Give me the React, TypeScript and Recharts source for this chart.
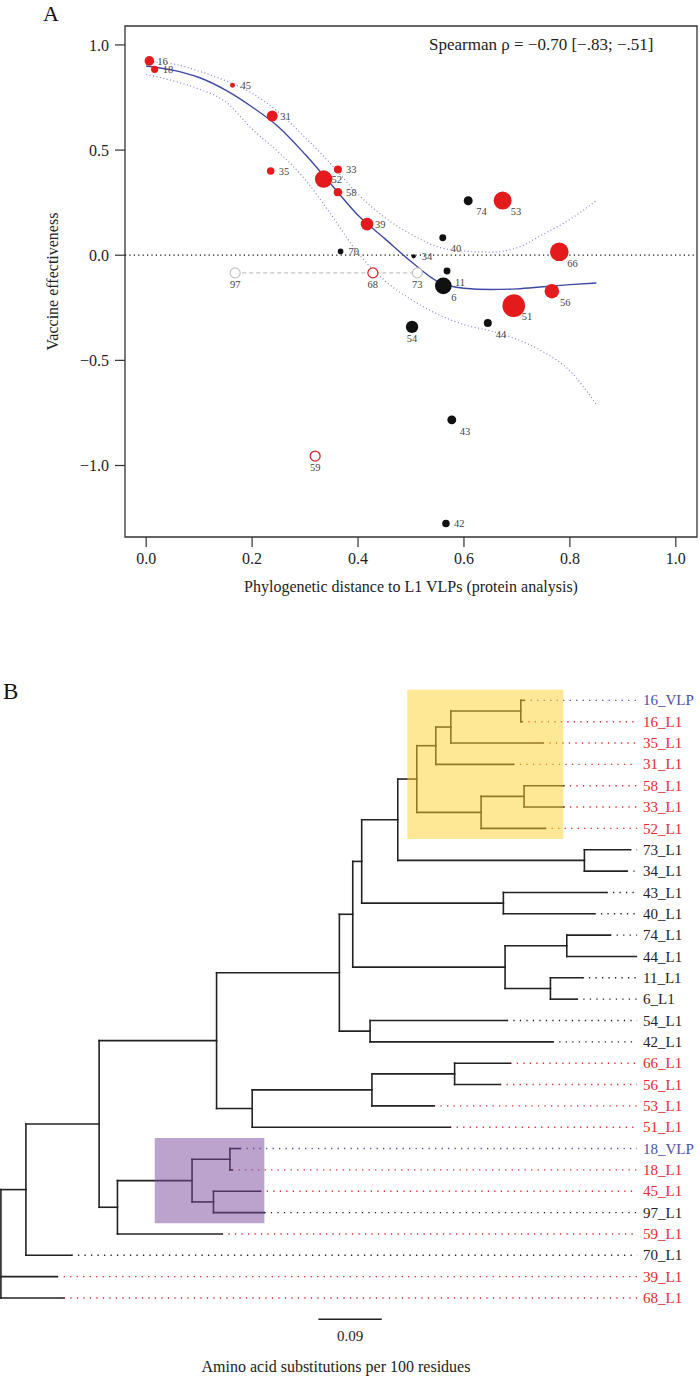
import React from 'react';
import {
  ComposedChart,
  Scatter,
  Line,
  XAxis,
  YAxis,
  ZAxis,
  ReferenceLine,
  ReferenceArea,
} from 'recharts';

const FONT = '"Liberation Serif", "Times New Roman", serif';
const RED = '#e41a1c';
const BLACK = '#111111';
const GREY = '#c4c4c4';
const VLP_BLUE = '#4f4fa3';

// ---------- panel A: vaccine effectiveness vs distance ----------
const hpvTypes = ['16', '18', '45', '31', '35', '52', '33', '58', '39', '70', '34', '40', '74', '11', '6', '53', '66', '56', '51', '54', '44', '43', '42', '97', '68', '73', '59'];
const distance = [0.006, 0.016, 0.163, 0.238, 0.235, 0.335, 0.362, 0.362, 0.417, 0.367, 0.505, 0.56, 0.608, 0.568, 0.561, 0.673, 0.78, 0.766, 0.694, 0.502, 0.645, 0.577, 0.566, 0.168, 0.428, 0.512, 0.319];
const effectiveness = [0.924, 0.884, 0.808, 0.662, 0.4, 0.362, 0.408, 0.3, 0.148, 0.018, -0.005, 0.083, 0.259, -0.075, -0.146, 0.26, 0.016, -0.171, -0.24, -0.341, -0.322, -0.783, -1.276, -0.084, -0.084, -0.084, -0.955];
const weight = [23, 13, 6, 30, 14, 76, 16, 18, 40, 8, 4.5, 12, 20, 12, 69, 81, 86, 53, 128, 38, 16, 20, 14, 25, 25, 25, 25];
const pointGroup = ['red', 'red', 'red', 'red', 'red', 'red', 'red', 'red', 'red', 'black', 'black', 'black', 'black', 'black', 'black', 'red', 'red', 'red', 'red', 'black', 'black', 'black', 'black', 'greyOpen', 'redOpen', 'greyOpen', 'redOpen'];

const labelSide: Record<string, 'r' | 'br' | 'b'> = {
  '40': 'br', '74': 'br', '11': 'br', '6': 'br', '53': 'br', '66': 'br', '56': 'br', '51': 'br', '44': 'br', '43': 'br',
  '54': 'b', '97': 'b', '68': 'b', '73': 'b', '59': 'b',
};

// loess fit and its confidence band
const fitX = [0, 0.05, 0.1, 0.15, 0.2, 0.25, 0.3, 0.35, 0.4, 0.45, 0.5, 0.55, 0.6, 0.65, 0.7, 0.75, 0.8, 0.85];
const fitY = [0.9, 0.88, 0.845, 0.785, 0.705, 0.61, 0.48, 0.335, 0.19, 0.08, -0.03, -0.125, -0.157, -0.163, -0.16, -0.15, -0.14, -0.132];
const ciHigh = [0.92, 0.91, 0.875, 0.83, 0.77, 0.68, 0.56, 0.43, 0.29, 0.18, 0.1, 0.04, 0.02, 0.015, 0.035, 0.1, 0.17, 0.26];
const ciLow = [0.86, 0.83, 0.79, 0.73, 0.6, 0.49, 0.36, 0.19, 0.01, -0.12, -0.21, -0.28, -0.33, -0.36, -0.4, -0.46, -0.55, -0.71];

const xTicks = [0, 0.2, 0.4, 0.6, 0.8, 1];
const yTicks = [-1, -0.5, 0, 0.5, 1];

const points = hpvTypes.map((t, i) => ({ type: t, x: distance[i], y: effectiveness[i], w: weight[i], group: pointGroup[i] }));
const blackPts = points.filter((p) => p.group === 'black');
const redPts = points.filter((p) => p.group === 'red');
const openPts = points.filter((p) => p.group === 'redOpen' || p.group === 'greyOpen');
const greyPts = points.filter((p) => p.group === 'greyOpen');
const linkLine = [greyPts[0], greyPts[greyPts.length - 1]].map((p) => ({ x: p.x, y: p.y }));

const fitLine = fitX.map((x, i) => ({ x, y: fitY[i] }));
const upperLine = fitX.map((x, i) => ({ x, y: ciHigh[i] }));
const lowerLine = fitX.map((x, i) => ({ x, y: ciLow[i] }));

const groupColor: Record<string, string> = { red: RED, black: BLACK, redOpen: RED, greyOpen: GREY };

const fmtY = (v: number) => (v < 0 ? '\u2212' : '') + Math.abs(v).toFixed(1);

const PointMark = (props: any) => {
  const { cx, cy, size, payload } = props;
  if (cx == null || cy == null) return <g />;
  const open = payload.group === 'redOpen' || payload.group === 'greyOpen';
  const r = open ? 5 : Math.sqrt((size || 0) / Math.PI);
  const color = groupColor[payload.group];
  const side = labelSide[payload.type] || 'r';
  const tx = side === 'b' ? cx : cx + 8;
  const ty = side === 'r' ? cy : cy + 11;
  return (
    <g>
      <circle cx={cx} cy={cy} r={r} fill={open ? '#fff' : color} stroke={open ? color : 'none'} strokeWidth={1.2} />
      <text x={tx} y={ty} dy="0.35em" textAnchor={side === 'b' ? 'middle' : 'start'} fontSize={10.5} fill="#444">
        {payload.type}
      </text>
    </g>
  );
};

// ---------- panel B: phylogenetic tree ----------
const tipLabels = ['16_VLP', '16_L1', '35_L1', '31_L1', '58_L1', '33_L1', '52_L1', '73_L1', '34_L1', '43_L1', '40_L1', '74_L1', '44_L1', '11_L1', '6_L1', '54_L1', '42_L1', '66_L1', '56_L1', '53_L1', '51_L1', '18_VLP', '18_L1', '45_L1', '97_L1', '59_L1', '70_L1', '39_L1', '68_L1'];
const tipGroup = ['vlp', 'red', 'red', 'red', 'red', 'red', 'red', 'black', 'black', 'black', 'black', 'black', 'black', 'black', 'black', 'black', 'black', 'red', 'red', 'red', 'red', 'vlp', 'red', 'red', 'black', 'red', 'black', 'red', 'red'];
const tipParent = ['N', 'N', 'M', 'K', 'O', 'O', 'L', 'J', 'J', 'Q', 'Q', 'Y', 'Y', 'Z', 'Z', 'U', 'U', 'X', 'X', 'W', 'V', 'F', 'F', 'G', 'G', 'D', 'A', 'root', 'root'];
const tipDepth = [0.7426, 0.7393, 0.7692, 0.7274, 0.7984, 0.7984, 0.7724, 0.8931, 0.8884, 0.8595, 0.8424, 0.8647, 0.902, 0.8254, 0.8174, 0.7181, 0.7833, 0.723, 0.7085, 0.6147, 0.6376, 0.3394, 0.3281, 0.3681, 0.3739, 0.3137, 0.1001, 0.0798, 0.0893];

const nodeIds = ['root', 'A', 'B', 'C', 'D', 'E', 'F', 'G', 'T', 'S', 'P', 'H', 'I', 'K', 'M', 'N', 'L', 'O', 'J', 'Q', 'R', 'Y', 'Z', 'U', 'V', 'W', 'X'];
const nodeParent = ['', 'root', 'A', 'B', 'B', 'D', 'E', 'E', 'C', 'T', 'S', 'P', 'H', 'I', 'K', 'M', 'I', 'L', 'H', 'P', 'S', 'R', 'R', 'T', 'C', 'V', 'W'];
const nodeDepth = [0, 0.0355, 0.1394, 0.3061, 0.1654, 0.2713, 0.3251, 0.3017, 0.4804, 0.4994, 0.5121, 0.5633, 0.5903, 0.6173, 0.6386, 0.7379, 0.6816, 0.7426, 0.8282, 0.7132, 0.7156, 0.8032, 0.78, 0.524, 0.3567, 0.5266, 0.644];

const highlights = [
  { node: 'I', fill: '#fdd12d' },
  { node: 'E', fill: '#77479b' },
];

const LEADER_END = 0.903;
const scaleBar = { from: 0.4506, length: 0.09, row: 29 };

const tipColor: Record<string, string> = { vlp: VLP_BLUE, red: '#e62a2a', black: '#222' };

const depthOf: Record<string, number> = {};
nodeIds.forEach((id, i) => (depthOf[id] = nodeDepth[i]));
const parentOf: Record<string, string> = {};
nodeIds.forEach((id, i) => (parentOf[id] = nodeParent[i]));

const childYs = (id: string): number[] => {
  const ys: number[] = [];
  tipParent.forEach((p, i) => { if (p === id) ys.push(i); });
  nodeIds.forEach((n, i) => { if (nodeParent[i] === id) ys.push(nodeY(n)); });
  return ys;
};
const yCache: Record<string, number> = {};
function nodeY(id: string): number {
  if (yCache[id] !== undefined) return yCache[id];
  const ys = childYs(id);
  yCache[id] = (Math.min(...ys) + Math.max(...ys)) / 2;
  return yCache[id];
}
const tipsUnder = (id: string): number[] => {
  const out: number[] = [];
  tipParent.forEach((p, i) => { if (p === id) out.push(i); });
  nodeIds.forEach((n, i) => { if (nodeParent[i] === id) out.push(...tipsUnder(n)); });
  return out;
};

type Seg = { x1: number; y1: number; x2: number; y2: number };
const branches: Seg[] = [];
tipLabels.forEach((_, i) => branches.push({ x1: depthOf[tipParent[i]], y1: i, x2: tipDepth[i], y2: i }));
nodeIds.forEach((id) => {
  if (parentOf[id]) branches.push({ x1: depthOf[parentOf[id]], y1: nodeY(id), x2: depthOf[id], y2: nodeY(id) });
  const ys = childYs(id);
  branches.push({ x1: depthOf[id], y1: Math.min(...ys), x2: depthOf[id], y2: Math.max(...ys) });
});
const leaders = tipLabels
  .map((_, i) => ({ i, x1: tipDepth[i], x2: LEADER_END, color: tipColor[tipGroup[i]] }))
  .filter((l) => l.x1 < LEADER_END - 0.002);

const boxes = highlights.map((h) => {
  const tips = tipsUnder(h.node);
  return {
    fill: h.fill,
    x1: (depthOf[parentOf[h.node]] + depthOf[h.node]) / 2,
    x2: Math.max(...tips.map((t) => tipDepth[t])),
    y1: Math.min(...tips) - 0.5,
    y2: Math.max(...tips) + 0.5,
  };
});

const tipIdx = tipLabels.map((_, i) => i);

const TipTick = (props: any) => {
  const { x, y, payload } = props;
  const i = payload.value;
  return (
    <text x={x} y={y} dy="0.34em" textAnchor="start" fontSize={15} fill={tipColor[tipGroup[i]]}>
      {tipLabels[i]}
    </text>
  );
};

export default function App() {
  return (
    <div style={{ position: 'absolute', left: 0, top: 0, width: 700, height: 1377, fontFamily: FONT, background: '#fff' }}>
      <div style={{ position: 'absolute', left: 0, top: 0 }}>
        <ComposedChart width={700} height={600} margin={{ top: 26, right: 3, bottom: 5, left: 0 }}>
          <XAxis
            type="number"
            dataKey="x"
            domain={[-0.04, 1.04]}
            allowDataOverflow
            ticks={xTicks}
            tickFormatter={(v: number) => v.toFixed(1)}
            height={58}
            tickSize={10}
            tickMargin={6}
            axisLine={false}
            tickLine={{ stroke: '#333', strokeWidth: 1.2 }}
            tick={{ fontSize: 16, fill: '#222' }}
            label={{ value: 'Phylogenetic distance to L1 VLPs (protein analysis)', position: 'insideBottom', offset: 3, fontSize: 16, fill: '#222' }}
          />
          <YAxis
            type="number"
            dataKey="y"
            domain={[-1.34, 1.09]}
            allowDataOverflow
            ticks={yTicks}
            tickFormatter={fmtY}
            width={125}
            tickSize={10}
            tickMargin={6}
            axisLine={false}
            tickLine={{ stroke: '#333', strokeWidth: 1.2 }}
            tick={{ fontSize: 16, fill: '#222' }}
            label={{
              content: () => (
                <text x={52} y={281.5} transform="rotate(-90 52 281.5)" textAnchor="middle" dominantBaseline="central" fontSize={16} fill="#222">
                  Vaccine effectiveness
                </text>
              ),
            }}
          />
          <ZAxis type="number" dataKey="w" domain={[0, 130]} range={[0, 130 * Math.PI]} />
          <ReferenceArea x1={-0.04} x2={1.04} y1={-1.34} y2={1.09} fill="none" stroke="#333" strokeWidth={1.3} />
          <ReferenceLine y={0} stroke="#111" strokeWidth={1.2} strokeDasharray="1.2 3.2" />
          <Line data={linkLine} dataKey="y" stroke={GREY} strokeWidth={1.3} strokeDasharray="4 3" dot={false} isAnimationActive={false} />
          <Line data={upperLine} dataKey="y" type="monotone" stroke="#8585d8" strokeWidth={1.2} strokeDasharray="1 2.5" dot={false} isAnimationActive={false} />
          <Line data={lowerLine} dataKey="y" type="monotone" stroke="#8585d8" strokeWidth={1.2} strokeDasharray="1 2.5" dot={false} isAnimationActive={false} />
          <Line data={fitLine} dataKey="y" type="monotone" stroke="#3d49a3" strokeWidth={1.4} dot={false} isAnimationActive={false} />
          <Scatter data={blackPts} shape={PointMark} isAnimationActive={false} />
          <Scatter data={redPts} shape={PointMark} isAnimationActive={false} />
          <Scatter data={openPts} shape={PointMark} isAnimationActive={false} />
        </ComposedChart>
      </div>

      <div style={{ position: 'absolute', left: 0, top: 670 }}>
        <ComposedChart width={700} height={692} margin={{ top: 9, right: 0, bottom: 0, left: 0 }}>
          <XAxis type="number" dataKey="x" domain={[-0.0013, 0.9057]} allowDataOverflow hide />
          <YAxis
            type="number"
            dataKey="y"
            orientation="right"
            domain={[-1, 31]}
            allowDataOverflow
            reversed
            ticks={tipIdx}
            interval={0}
            width={61}
            axisLine={false}
            tickLine={false}
            tickSize={3}
            tickMargin={1}
            tick={<TipTick />}
          />
          {leaders.map((l) => (
            <ReferenceLine
              key={'lead' + l.i}
              segment={[{ x: l.x1, y: l.i }, { x: l.x2, y: l.i }]}
              stroke={l.color}
              strokeWidth={1.4}
              strokeDasharray="1.3 5.2"
            />
          ))}
          {branches.map((b, k) => (
            <ReferenceLine
              key={'br' + k}
              segment={[{ x: b.x1, y: b.y1 }, { x: b.x2, y: b.y2 }]}
              stroke="#222"
              strokeWidth={1.6}
              strokeLinecap="square"
            />
          ))}
          <ReferenceLine
            segment={[{ x: scaleBar.from, y: scaleBar.row }, { x: scaleBar.from + scaleBar.length, y: scaleBar.row }]}
            stroke="#222"
            strokeWidth={1.6}
            label={{ value: String(scaleBar.length), position: 'bottom', offset: 11, fontSize: 15, fill: '#222' }}
          />
          {boxes.map((b, k) => (
            <ReferenceArea
              key={'box' + k}
              x1={b.x1}
              x2={b.x2}
              y1={b.y1}
              y2={b.y2}
              fill={b.fill}
              fillOpacity={0.5}
              stroke="none"
              zIndex={1000}
            />
          ))}
        </ComposedChart>
      </div>

      <svg width={700} height={1377} style={{ position: 'absolute', left: 0, top: 0, pointerEvents: 'none' }}>
        <text x={43} y={21} fontSize={22} fill="#111">A</text>
        <text x={429} y={50} fontSize={17} fill="#222">Spearman {'\u03c1'} = {'\u2212'}0.70 [{'\u2212'}.83; {'\u2212'}.51]</text>
        <text x={3} y={699} fontSize={23} fill="#111">B</text>
        <text x={336} y={1372} fontSize={16} fill="#222" textAnchor="middle">Amino acid substitutions per 100 residues</text>
      </svg>
    </div>
  );
}
